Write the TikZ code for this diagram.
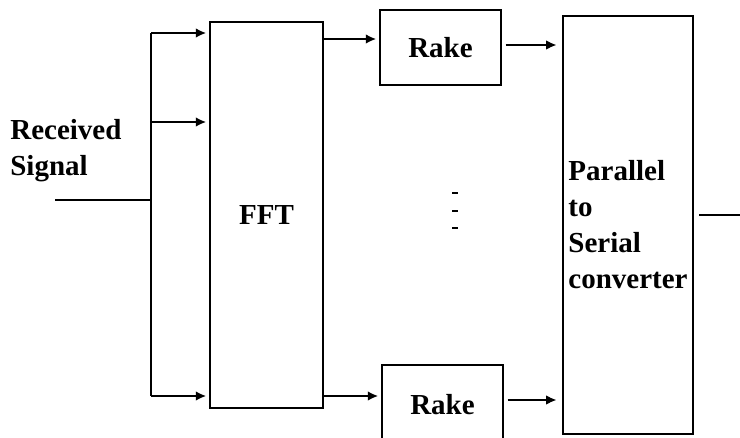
\documentclass[tikz,border=0pt]{standalone}
\usepackage{fontspec}
\setmainfont{Liberation Serif}
\usetikzlibrary{arrows.meta,positioning}

\tikzset{
  blockbox/.style={draw,line width=1.2pt,inner sep=0pt,font=\fontsize{16.5}{20.5}\selectfont\bfseries},
  arr/.style={-{Latex[length=6pt,width=5.5pt]},line width=1.3pt,shorten >=1.5pt},
  wire/.style={line width=1.3pt}
}

\begin{document}
\begin{tikzpicture}[x=0.02cm,y=-0.02cm]
    \useasboundingbox (0,0) rectangle (740,438);
    % blocks
    \node[blockbox,minimum width=2.26cm,minimum height=7.72cm] (fft) at (266.5,215) {FFT\\[0.15cm]};
    \node[blockbox,minimum width=2.42cm,minimum height=1.5cm] (rake1) at (440.5,47.5) {Rake};
    \node[blockbox,minimum width=2.42cm,minimum height=1.6cm] (rake2) at (442.5,405) {Rake};
    \node[blockbox,minimum width=2.6cm,minimum height=8.36cm,align=left] (ps) at (628,225)
      {Parallel\\to\\Serial\\converter};
    \node[anchor=north west,inner sep=0pt,align=left,font=\fontsize{16.5}{20.5}\selectfont\bfseries]
      (rx) at (10,119) {Received\\Signal};
    % input and split
    \coordinate (in) at (55,200);
    \coordinate (b1) at (151,33);
    \coordinate (b2) at (151,122);
    \coordinate (b3) at (151,396);
    \coordinate (out) at (740,215);
    \draw[wire] (in) -- (b1 |- in);
    \draw[wire] (b1) -- (b3);
    \draw[arr] (b1) -- (b1 -| fft.west);
    \draw[arr] (b2) -- (b2 -| fft.west);
    \draw[arr] (b3) -- (b3 -| fft.west);
    % fft to rake
    \draw[arr] ([yshift=0.17cm]rake1.west -| fft.east) -- ([yshift=0.17cm]rake1.west);
    \draw[arr] ([yshift=0.18cm]rake2.west -| fft.east) -- ([yshift=0.18cm]rake2.west);
    % rake to converter
    \draw[arr,shorten <=2pt,shorten >=3pt] ([yshift=0.05cm]rake1.east) -- ([yshift=0.05cm]rake1.east -| ps.west);
    \draw[arr,shorten <=2pt,shorten >=3pt] ([yshift=0.1cm]rake2.east) -- ([yshift=0.1cm]rake2.east -| ps.west);
    \draw[wire,shorten <=3pt] (ps.east |- out) -- (out);
    % dots
    \foreach \y in {193,211,228}
      \draw[line width=1pt] (452,\y) -- (458,\y);
\end{tikzpicture}
\end{document}
